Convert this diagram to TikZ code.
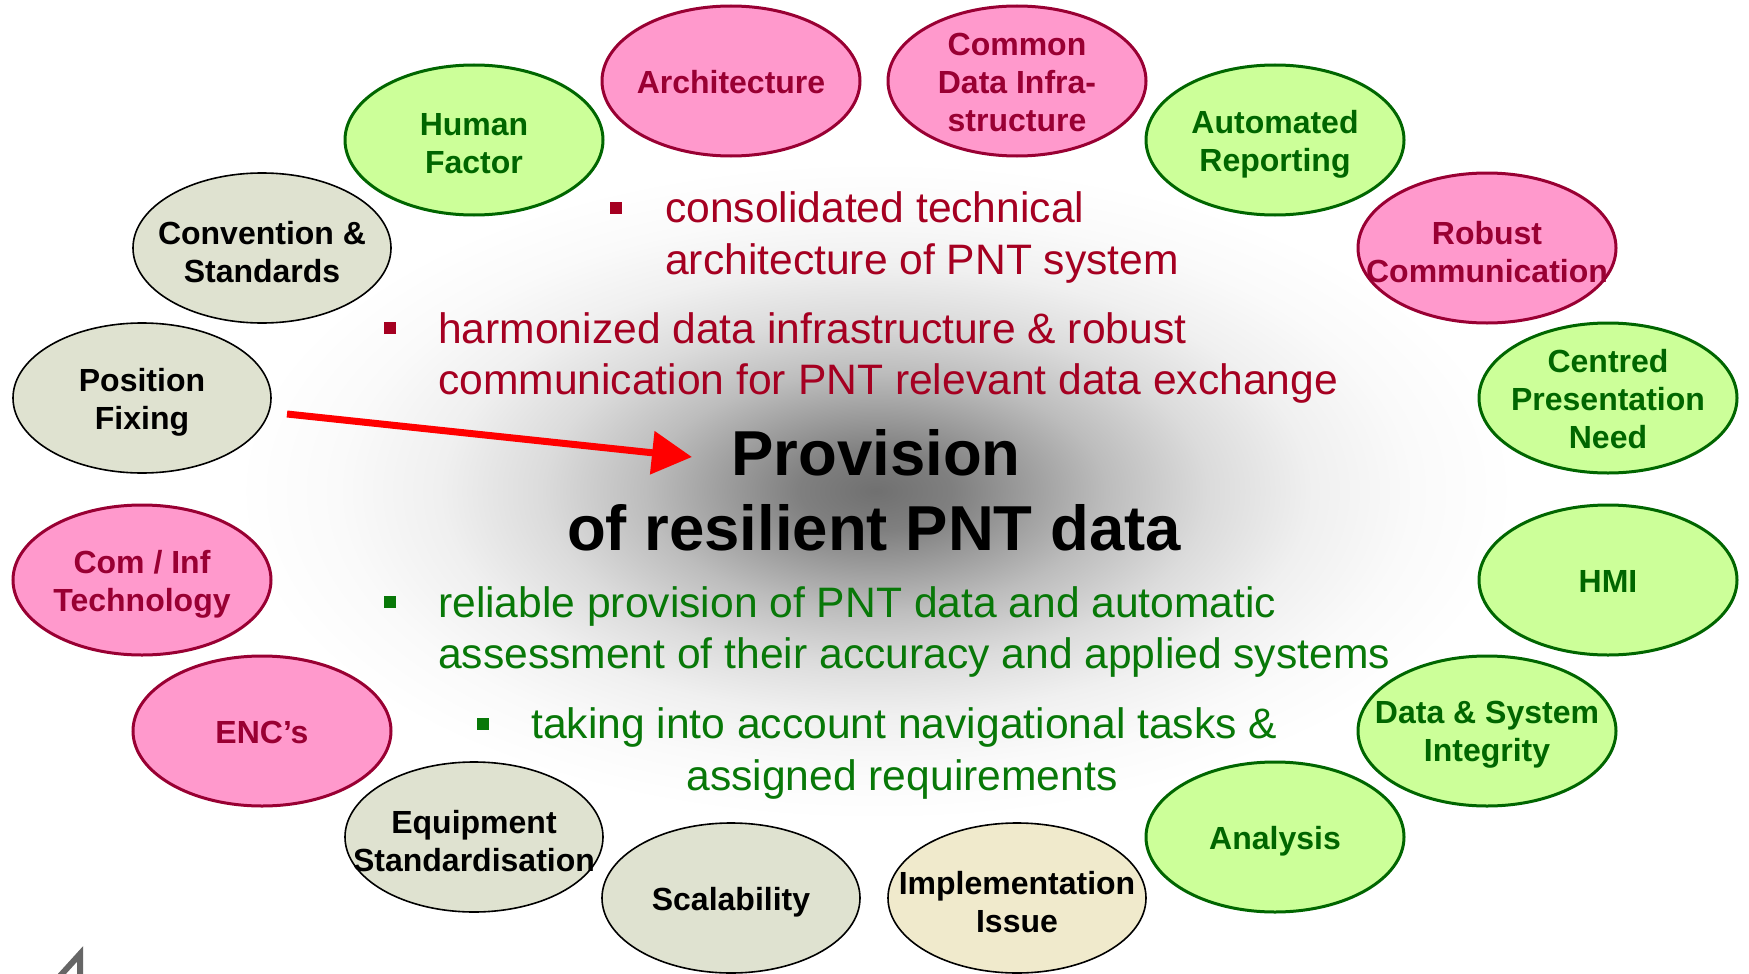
\documentclass[tikz,border=0pt]{standalone}
\usepackage{fontspec}
\setmainfont{Liberation Sans}
\usetikzlibrary{shapes.geometric,arrows.meta}
\definecolor{pinkF}{HTML}{FF99CC}
\definecolor{pinkD}{HTML}{990033}
\definecolor{greenF}{HTML}{CCFF99}
\definecolor{greenD}{HTML}{006600}
\definecolor{grayF}{HTML}{DFE2D0}
\definecolor{beigeF}{HTML}{F0EACC}
\definecolor{redT}{HTML}{A50021}
\definecolor{greenT}{HTML}{087808}
\pgfdeclareradialshading{glow}{\pgfpoint{0bp}{0bp}}{color(0bp)=(black!56); color(3bp)=(black!50); color(6bp)=(black!38); color(9bp)=(black!26); color(13bp)=(black!14); color(17bp)=(black!6); color(21bp)=(black!2); color(25bp)=(white); color(50bp)=(white)}
\begin{document}
\begin{tikzpicture}[x=1pt,y=-1pt,
  bub/.style={ellipse, minimum width=258pt, minimum height=150pt, inner sep=0pt, line width=3pt},
  pinkB/.style={bub, fill=pinkF, draw=pinkD},
  greenB/.style={bub, fill=greenF, draw=greenD},
  grayB/.style={bub, fill=grayF, draw=black, line width=1.6pt},
  beigeB/.style={bub, fill=beigeF, draw=black, line width=1.6pt},
  lab/.style={align=center, inner sep=0pt, font=\bfseries\fontsize{32}{38}\selectfont},
  two/.style={yshift=-4pt},
  one/.style={yshift=-1pt},
  pinkL/.style={lab, text=pinkD},
  greenL/.style={lab, text=greenD},
  blackL/.style={lab, text=black},
  body/.style={anchor=base west, inner sep=0pt, font=\fontsize{42.6}{51}\selectfont},
  redtxt/.style={body, text=redT},
  greentxt/.style={body, text=greenT},
  bulR/.style={fill=redT, minimum size=12pt, inner sep=0pt},
  bulG/.style={fill=greenT, minimum size=12pt, inner sep=0pt},
  title/.style={anchor=base, inner sep=0pt, font=\bfseries\fontsize{63.5}{75}\selectfont}
]
\useasboundingbox (0,0) rectangle (1749,974);
\fill[white] (0,0) rectangle (1749,974);
\shade[shading=glow] (876,491) ellipse [x radius=640pt, y radius=330pt];

% bubbles
\node[pinkB]  (arch) at (731,81)  {};
\node[pinkB]  (cdi)  at (1017,81) {};
\node[greenB] (hf)   at (474,140) {};
\node[greenB] (ar)   at (1275,140) {};
\node[grayB]  (cs)   at (262,248) {};
\node[pinkB]  (rc)   at (1487,248) {};
\node[grayB]  (pf)   at (142,398) {};
\node[greenB] (cpn)  at (1608,398) {};
\node[pinkB]  (cit)  at (142,580) {};
\node[greenB] (hmi)  at (1608,580) {};
\node[pinkB]  (enc)  at (262,731) {};
\node[greenB] (dsi)  at (1487,731) {};
\node[grayB]  (es)   at (474,837) {};
\node[greenB] (ana)  at (1275,837) {};
\node[grayB]  (sca)  at (731,898) {};
\node[beigeB] (ii)   at (1017,898) {};

\node[pinkL, one]  (archT) at (arch) {Architecture};
\node[pinkL, one]  (cdiT)  at (cdi)  {Common\\Data Infra-\\structure};
\node[greenL, two] (hfT)   at (hf)   {Human\\Factor};
\node[greenL, two] (arT)   at (ar)   {Automated\\Reporting};
\node[blackL, two] (csT)   at (cs)   {Convention \&\\Standards};
\node[pinkL, two]  (rcT)   at (rc)   {Robust\\Communication};
\node[blackL, two] (pfT)   at (pf)   {Position\\Fixing};
\node[greenL, one] (cpnT)  at (cpn)  {Centred\\Presentation\\Need};
\node[pinkL, two]  (citT)  at (cit)  {Com / Inf\\Technology};
\node[greenL, one] (hmiT)  at (hmi)  {HMI};
\node[pinkL, one]  (encT)  at (enc)  {ENC’s};
\node[greenL, two] (dsiT)  at (dsi)  {Data \& System\\Integrity};
\node[blackL, two] (esT)   at (es)   {Equipment\\Standardisation};
\node[greenL, two] (anaT)  at (ana)  {Analysis};
\node[blackL, two] (scaT)  at (sca)  {Scalability};
\node[blackL, two] (iiT)   at (ii)   {Implementation\\Issue};

% bullets and text
\node[bulR] (b1) at (616,208) {};
\node[redtxt] (t1a) at (665,222) {consolidated technical};
\node[redtxt] (t1b) at (665,274) {architecture of PNT system};
\node[bulR] (b2) at (390,328) {};
\node[redtxt] (t2a) at (438,343) {harmonized data infrastructure \& robust};
\node[redtxt] (t2b) at (438,394) {communication for PNT relevant data exchange};

\node[title] (p1) at (876,475) {Provision};
\node[title] (p2) at (874,550) {of resilient PNT data};

\node[bulG] (b3) at (390,602) {};
\node[greentxt] (t3a) at (438,617) {reliable provision of PNT data and automatic};
\node[greentxt] (t3b) at (438,668) {assessment of their accuracy and applied systems};
\node[bulG] (b4) at (483,724) {};
\node[greentxt] (t4a) at (531,738) {taking into account navigational tasks \&};
\node[greentxt, anchor=base] (t4b) at (902,790) {assigned requirements};

% arrow
\coordinate (aS) at (287,414);
\coordinate (aE) at (692,457);
\draw[red, line width=7pt, -{Triangle[length=40pt,width=42pt]}] (aS) -- (aE);

% corner fragment
\draw[black!60, line width=6pt, line join=miter] (60,976) -- (80,954) -- (80,976);
\end{tikzpicture}
\end{document}
